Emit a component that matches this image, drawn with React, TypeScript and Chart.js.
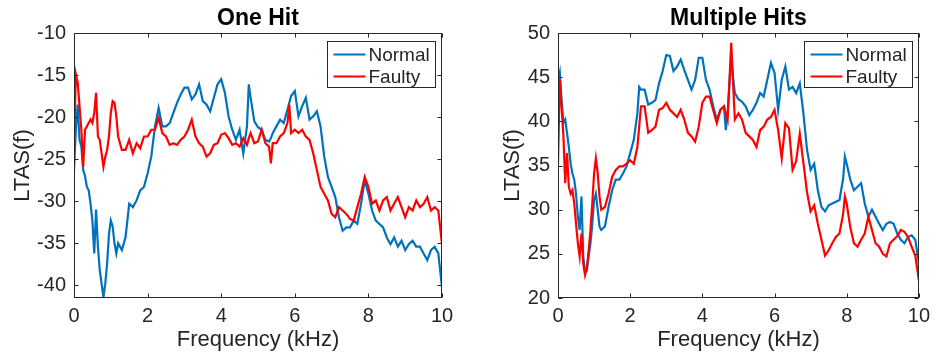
import React, { useEffect, useRef } from 'react';
import { Chart, registerables } from 'chart.js';

Chart.register(...registerables);

const FONT = '"Liberation Sans", Arial, Helvetica, sans-serif';
const TEXT = '#262626';
const BLUE = '#0072BD';
const RED = '#FF0000';

const seriesLabels = ['Normal', 'Faulty'];
const chartTitles = ['One Hit', 'Multiple Hits'];
const xTitle = 'Frequency (kHz)';
const yTitle = 'LTAS(f)';
const xTicks = [0, 2, 4, 6, 8, 10];
const oneHitYTicks = [-40, -35, -30, -25, -20, -15, -10];
const multiHitYTicks = [20, 25, 30, 35, 40, 45, 50];

const oneHitFreq = [
  0, 0.05, 0.1, 0.15, 0.2, 0.25, 0.3, 0.35, 0.4, 0.45, 0.5, 0.55, 0.6, 0.65, 0.7, 0.75, 0.8, 0.85, 0.9, 0.95, 1.0, 1.05, 1.1, 1.15, 1.2,
  1.3, 1.4, 1.5, 1.6, 1.7, 1.8, 1.9, 2.0, 2.1, 2.2, 2.3, 2.4, 2.5, 2.6, 2.7, 2.8, 2.9, 3.0, 3.1, 3.2, 3.3, 3.4, 3.5, 3.6, 3.7, 3.8, 3.9,
  4.0, 4.1, 4.2, 4.3, 4.4, 4.5, 4.6, 4.7, 4.75, 4.8, 4.9, 5.0, 5.1, 5.2, 5.3, 5.35, 5.4, 5.5, 5.6, 5.7, 5.8, 5.85, 5.9,
  6.0, 6.1, 6.2, 6.3, 6.4, 6.5, 6.6, 6.7, 6.8, 6.9, 7.0, 7.1, 7.2, 7.3, 7.4, 7.5, 7.6, 7.7, 7.8, 7.9,
  8.0, 8.1, 8.2, 8.3, 8.4, 8.5, 8.6, 8.7, 8.8, 8.9, 9.0, 9.1, 9.2, 9.3, 9.4, 9.5, 9.6, 9.7, 9.8, 9.9, 10.0,
];
const oneHitNormal = [
  -26.3, -21.5, -18.5, -22.7, -23.5, -26.3, -27, -28.3, -28.7, -30.3, -32.3, -36.2, -31, -35.4, -38.2, -39.8, -41.4, -39.8, -37.4, -33.9, -32.3, -33, -35, -36.2, -35,
  -35.8, -34.3, -30.3, -30.7, -29.9, -28.7, -28.3, -26.7, -24.7, -21.1, -18.9, -21.1, -21.1, -20.7, -19.5, -18.3, -17.3, -16.5, -16.5, -17.9, -17.3, -16.1, -18.1, -18.5, -19.3, -17.7, -16.1,
  -15.5, -17.1, -19.9, -21.5, -22.7, -21.5, -24.3, -21.1, -16.1, -17.7, -20.5, -21.2, -21.5, -22.7, -22.9, -22.5, -21.9, -21.1, -20.3, -20.7, -19.1, -18.3, -17.5,
  -16.9, -19.9, -18.7, -17.7, -20.3, -19.9, -19.3, -21.1, -24.7, -27.1, -28.3, -29.5, -31.9, -33.5, -33.1, -33.1, -32.3, -32.7, -30.3, -27.5,
  -29.1, -31.1, -32.3, -32.7, -33.1, -34.3, -35.1, -34.3, -35.4, -34.7, -35.8, -35.1, -34.7, -35.4, -35.4, -36.2, -37, -35.8, -35.4, -36.2, -40.2,
];
const oneHitFaulty = [
  -23.5, -14.9, -15.9, -18.7, -21.5, -25.9, -21.5, -21.1, -20.7, -20.3, -20.7, -19.5, -17.1, -22.3, -22.7, -24.3, -25.9, -24.7, -23.9, -22.3, -19.5, -18.1, -18.3, -19.9, -22.3,
  -23.9, -23.9, -22.7, -24.3, -23.1, -23.7, -22.3, -22.3, -21.5, -21.5, -20.1, -21.9, -22.3, -23.3, -23.1, -23.3, -22.7, -22.3, -21.5, -20.3, -22.3, -23.1, -23.5, -24.7, -24.3, -23.3, -23.1,
  -22.1, -21.9, -22.5, -23.3, -23.1, -23.5, -22.5, -23.3, -22.5, -21.9, -23.1, -22.9, -21.5, -23.1, -23.5, -25.5, -23.1, -23.1, -22.3, -21.9, -20.7, -18.5, -21.9,
  -21.5, -21.9, -21.5, -22.3, -22.7, -24.3, -26.3, -28.3, -29.1, -29.9, -31.5, -31.9, -30.7, -31.1, -31.5, -32.1, -32.3, -30.7, -29.1, -27.1,
  -28.3, -30.3, -29.9, -31.1, -29.9, -29.5, -31.1, -30.3, -29.5, -30.7, -31.9, -30.7, -31.1, -29.9, -30.7, -30.3, -29.5, -31.1, -30.7, -31.1, -35.1,
];

const multiHitFreq = [
  0, 0.05, 0.1, 0.15, 0.2, 0.25, 0.3, 0.35, 0.4, 0.45, 0.5, 0.55, 0.6, 0.65, 0.7, 0.75, 0.8, 0.85, 0.9, 0.95, 1.0, 1.05, 1.1, 1.15, 1.2,
  1.3, 1.4, 1.5, 1.6, 1.7, 1.8, 1.9, 2.0, 2.1, 2.2, 2.25,
  2.3, 2.4, 2.5, 2.6, 2.7, 2.8, 2.9, 3.0, 3.1, 3.2, 3.3, 3.4, 3.5, 3.6, 3.7, 3.8, 3.9, 4.0, 4.1, 4.2, 4.3, 4.4, 4.5, 4.6, 4.65, 4.7, 4.8, 4.85,
  4.9, 5.0, 5.1, 5.2, 5.3, 5.4, 5.5, 5.6, 5.7, 5.8, 5.9, 6.0, 6.1, 6.2, 6.3, 6.4, 6.5, 6.6, 6.7, 6.8, 6.9, 7.0, 7.1, 7.2, 7.3, 7.4, 7.5, 7.6, 7.7, 7.8, 7.9, 7.95,
  8.0, 8.1, 8.2, 8.3, 8.4, 8.5, 8.6, 8.7, 8.8, 8.9, 9.0, 9.1, 9.2, 9.3, 9.4, 9.5, 9.6, 9.7, 9.8, 9.9, 10.0,
];
const multiHitNormal = [
  44.5, 45.5, 42.4, 39.8, 40.2, 38.7, 37.1, 35.2, 34.1, 33.4, 31.8, 29.2, 27.7, 31.5, 24.7, 22.8, 23.1, 24.7, 26.2, 28.4, 31.1, 31.8, 30, 28.1, 27.7,
  28.1, 30.3, 32.2, 33.4, 33.4, 34.1, 34.9, 36.4, 37.9, 40.9, 43.9,
  43.6, 43.6, 41.9, 42.1, 42.4, 44.3, 45.7, 47.5, 47.4, 45.7, 46.2, 47, 45.8, 44.7, 43.6, 44.7, 47.2, 47.2, 44.7, 43.6, 41.7, 40.2, 41.3, 41.7, 39, 40.9, 47.5, 45,
  43.2, 42.5, 42.2, 41.7, 40.7, 41.3, 42.1, 43.2, 42.8, 44.7, 46.6, 45.5, 41.3, 44.7, 46.2, 43.6, 43.9, 43.2, 44.3, 40.9, 36.8, 34.5, 35.2, 32.2, 30.3, 29.8, 30.5, 30.7, 30.9, 31.1, 33.5, 36,
  35.2, 33.4, 32.2, 32.6, 33, 30.7, 29.2, 30, 29.2, 28.4, 27.7, 28.4, 28.6, 28.4, 27.3, 26.6, 26.2, 26.9, 27.1, 26.6, 23.9,
];
const multiHitFaulty = [
  35.2, 44.7, 41.7, 38.3, 33, 36.4, 32.6, 31.8, 32.2, 30.7, 28.4, 26.2, 24.7, 27.3, 23.9, 22.6, 23.5, 25.4, 27.7, 30.7, 34.1, 35.8, 34.1, 31.5, 30,
  30.3, 31.8, 33.7, 34.5, 34.9, 34.9, 35.2, 35.6, 35.2, 37.1, 39.4,
  41.7, 41.7, 38.7, 39, 39.4, 41.3, 41.5, 42.1, 41.3, 40.9, 40.5, 41.3, 40.2, 38.7, 38.3, 37.7, 39.4, 42.1, 42.8, 42.8, 41.3, 39.8, 41.3, 41.7, 40.9, 40.2, 48.9, 44.5,
  40.2, 40.9, 40.2, 38.7, 38.3, 37.9, 37.1, 39, 39.4, 40.2, 40.5, 41.3, 39, 35.8, 39.8, 39.2, 34.5, 35.5, 38.6, 35.3, 32, 29.8, 30.5, 28.4, 26.6, 24.8, 25.4, 26.2, 26.9, 27.3, 29.5, 31.5,
  30.7, 28, 26.2, 25.8, 26.6, 27.3, 29.2, 27.7, 26.2, 25.8, 25, 24.7, 26.2, 26.6, 27, 27.7, 27.5, 26.9, 25.8, 24.8, 22,
];

const boxPlugin = {
  id: 'matlabBox',
  afterDatasetsDraw(chart: any) {
    const { ctx, chartArea: a, scales } = chart;
    ctx.save();
    ctx.strokeStyle = TEXT;
    ctx.lineWidth = 1;
    const L = Math.round(a.left) + 0.5;
    const R = Math.round(a.right) - 0.5;
    const T = Math.round(a.top) + 0.5;
    const B = Math.round(a.bottom) - 0.5;
    ctx.strokeRect(L, T, R - L, B - T);
    const tl = 4;
    ctx.beginPath();
    scales.x.ticks.forEach((t: any) => {
      const px = Math.round(scales.x.getPixelForValue(t.value)) + 0.5;
      ctx.moveTo(px, B);
      ctx.lineTo(px, B - tl);
      ctx.moveTo(px, T);
      ctx.lineTo(px, T + tl);
    });
    scales.y.ticks.forEach((t: any) => {
      const py = Math.round(scales.y.getPixelForValue(t.value)) + 0.5;
      ctx.moveTo(L, py);
      ctx.lineTo(L + tl, py);
      ctx.moveTo(R, py);
      ctx.lineTo(R - tl, py);
    });
    ctx.stroke();
    ctx.restore();
  },
};

const legendPlugin = {
  id: 'matlabLegend',
  afterDraw(chart: any, _args: any, opts: any) {
    const { ctx, chartArea: a } = chart;
    const w = opts.width;
    const h = opts.height;
    const x0 = Math.round(a.right - opts.inset - w) + 0.5;
    const y0 = Math.round(a.top + opts.top) + 0.5;
    ctx.save();
    ctx.fillStyle = '#ffffff';
    ctx.fillRect(x0, y0, w, h);
    ctx.strokeStyle = TEXT;
    ctx.lineWidth = 1;
    ctx.strokeRect(x0, y0, w, h);
    chart.data.datasets.forEach((ds: any, i: number) => {
      const y = y0 + 13 + i * 22;
      ctx.strokeStyle = ds.borderColor;
      ctx.lineWidth = 2;
      ctx.beginPath();
      ctx.moveTo(x0 + 6, y);
      ctx.lineTo(x0 + 38, y);
      ctx.stroke();
      ctx.fillStyle = TEXT;
      ctx.font = `19px ${FONT}`;
      ctx.textBaseline = 'middle';
      ctx.textAlign = 'left';
      ctx.fillText(ds.label, x0 + 41, y + 1);
    });
    ctx.restore();
  },
};

type Spec = {
  title: string;
  freq: number[];
  normal: number[];
  faulty: number[];
  yMin: number;
  yMax: number;
  yTicks: number[];
  yWidth: number;
  yTitlePad: number;
  padRight: number;
  legendWidth: number;
};

function makeConfig(s: Spec): any {
  return {
    type: 'line',
    data: {
      datasets: [
        {
          label: seriesLabels[0],
          data: s.freq.map((f, i) => ({ x: f, y: s.normal[i] })),
          borderColor: BLUE,
          backgroundColor: BLUE,
          borderWidth: 2.2,
          pointRadius: 0,
          tension: 0,
          order: 1,
        },
        {
          label: seriesLabels[1],
          data: s.freq.map((f, i) => ({ x: f, y: s.faulty[i] })),
          borderColor: RED,
          backgroundColor: RED,
          borderWidth: 2.2,
          pointRadius: 0,
          tension: 0,
          order: 0,
        },
      ],
    },
    options: {
      responsive: false,
      animation: false,
      devicePixelRatio: 1,
      layout: { padding: { left: 0, right: s.padRight, top: 0, bottom: 0 } },
      scales: {
        x: {
          type: 'linear',
          min: 0,
          max: 10,
          afterBuildTicks: (sc: any) => {
            sc.ticks = xTicks.map((v) => ({ value: v }));
          },
          afterFit: (sc: any) => {
            sc.height = 60;
          },
          grid: { display: false, drawTicks: false },
          border: { display: false },
          ticks: {
            font: { size: 20, family: FONT },
            color: TEXT,
            padding: 6,
            maxRotation: 0,
            autoSkip: false,
          },
          title: {
            display: true,
            text: xTitle,
            font: { size: 22, family: FONT },
            color: TEXT,
            padding: { top: 0, bottom: 5.3 },
          },
        },
        y: {
          type: 'linear',
          min: s.yMin,
          max: s.yMax,
          afterBuildTicks: (sc: any) => {
            sc.ticks = s.yTicks.map((v) => ({ value: v }));
          },
          afterFit: (sc: any) => {
            sc.width = s.yWidth;
          },
          grid: { display: false, drawTicks: false },
          border: { display: false },
          ticks: {
            font: { size: 20, family: FONT },
            color: TEXT,
            padding: 8,
            autoSkip: false,
          },
          title: {
            display: true,
            text: yTitle,
            font: { size: 22, family: FONT },
            color: TEXT,
            padding: { top: s.yTitlePad, bottom: 0 },
          },
        },
      },
      plugins: {
        legend: { display: false },
        tooltip: { enabled: false },
        title: {
          display: true,
          text: s.title,
          fullSize: false,
          color: '#000000',
          font: { size: 23, weight: 'bold', family: FONT },
          padding: { top: 4.7, bottom: 0.7 },
        },
        matlabLegend: { width: s.legendWidth, height: 46, inset: 7, top: 8 },
      },
    },
    plugins: [boxPlugin, legendPlugin],
  };
}

function ChartCanvas({ spec, left }: { spec: Spec; left: number }) {
  const ref = useRef<HTMLCanvasElement | null>(null);
  useEffect(() => {
    if (!ref.current) return;
    const chart = new Chart(ref.current, makeConfig(spec));
    return () => chart.destroy();
  }, [spec]);
  return (
    <canvas
      ref={ref}
      width={468}
      height={358}
      style={{ position: 'absolute', left, top: 0, width: 468, height: 358, display: 'block' }}
    />
  );
}

const leftSpec: Spec = {
  title: chartTitles[0],
  freq: oneHitFreq,
  normal: oneHitNormal,
  faulty: oneHitFaulty,
  yMin: -41.5,
  yMax: -10,
  yTicks: oneHitYTicks,
  yWidth: 74,
  yTitlePad: 9.3,
  padRight: 26,
  legendWidth: 108,
};

const rightSpec: Spec = {
  title: chartTitles[1],
  freq: multiHitFreq,
  normal: multiHitNormal,
  faulty: multiHitFaulty,
  yMin: 20,
  yMax: 50,
  yTicks: multiHitYTicks,
  yWidth: 90,
  yTitlePad: 31.5,
  padRight: 11,
  legendWidth: 108,
};

export default function App() {
  return (
    <div style={{ position: 'absolute', left: 0, top: 0, width: 936, height: 358, background: '#ffffff' }}>
      <ChartCanvas spec={leftSpec} left={0} />
      <ChartCanvas spec={rightSpec} left={468} />
    </div>
  );
}
